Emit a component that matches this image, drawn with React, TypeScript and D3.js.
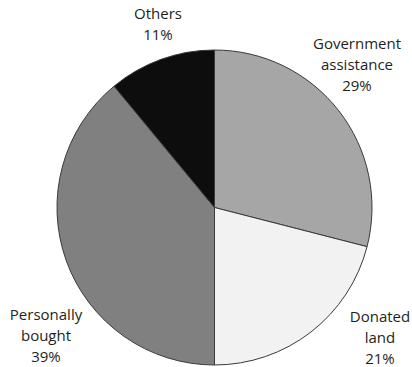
import React from "react";
import * as d3 from "d3";

const categories = ["Government assistance", "Donated land", "Personally bought", "Others"];
const values = [29, 21, 39, 11];
const labelLines = [
  ["Government", "assistance", "29%"],
  ["Donated", "land", "21%"],
  ["Personally", "bought", "39%"],
  ["Others", "11%"],
];
const colors = ["#a6a6a6", "#f2f2f2", "#808080", "#0d0d0d"];
// label anchor (x, first baseline y) in px
const labelAnchors: [number, number][] = [
  [357, 49],
  [380, 322],
  [46, 320],
  [158, 19],
];

export default function App() {
  const W = 412, H = 367;
  const cx = 214.5, cy = 207.5, r = 157.5;
  const pie = d3.pie<number>().sort(null).value((d) => d)(values);
  const arc = d3.arc<d3.PieArcDatum<number>>().innerRadius(0).outerRadius(r);
  return (
    <svg width={W} height={H} style={{ position: "absolute", left: 0, top: 0 }}>
      <g transform={`translate(${cx},${cy})`}>
        {pie.map((p, i) => (
          <path key={categories[i]} d={arc(p) || ""} fill={colors[i]} stroke="#3a3a3a" strokeWidth={1} />
        ))}
      </g>
      {labelLines.map((lines, i) => (
        <text key={i} x={labelAnchors[i][0]} y={labelAnchors[i][1]} textAnchor="middle"
          fontFamily="'Open Sans', sans-serif" fontSize={15} fill="#231f20">
          {lines.map((l, j) => (
            <tspan key={j} x={labelAnchors[i][0]} dy={j === 0 ? 0 : 21}>{l}</tspan>
          ))}
        </text>
      ))}
    </svg>
  );
}
